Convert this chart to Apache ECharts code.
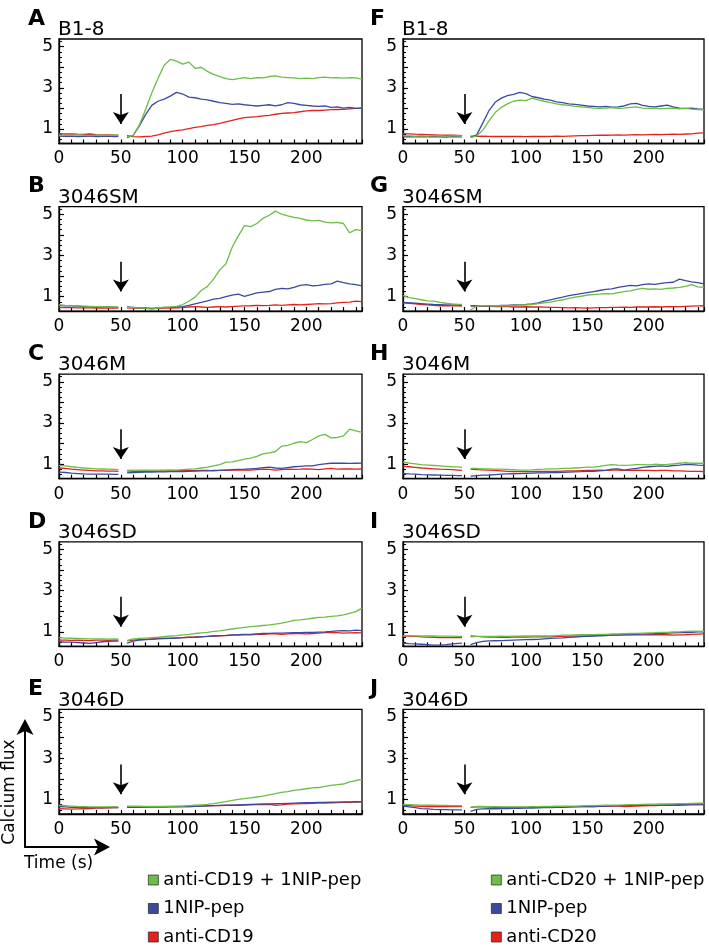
<!DOCTYPE html>
<html><head><meta charset="utf-8">
<script src="https://cdn.jsdelivr.net/npm/echarts@6/dist/echarts.min.js"></script>
<style>html,body{margin:0;padding:0;background:#fff}#c{width:709px;height:948px}</style>
</head><body><div id="c"></div>
<script>
// ---------------- DATA ----------------
const times = [0,5,10,15,20,25,30,35,40,45,48,51,
  55,60,65,70,75,80,85,90,95,100,
  105,110,115,120,125,130,135,140,145,150,
  155,160,165,170,175,180,185,190,195,200,
  205,210,215,220,225,230,235,240,245];

const xLabels = [0,50,100,150,200];
const yLabels = [1,3,5];
const yMajorTicks = [1,2,3,4,5];
const yMinorTicks = [0.5,0.75,1.25,1.5,1.75,2.25,2.5,2.75,3.25,3.5,3.75,4.25,4.5,4.75,5.25];
const stimTime = 50, arrowTop = 2.7, arrowTip = 1.25;

const namesLeft = ['anti-CD19 + 1NIP-pep','1NIP-pep','anti-CD19'];
const namesRight = ['anti-CD20 + 1NIP-pep','1NIP-pep','anti-CD20'];

// Panel A  B1-8 (anti-CD19)
const A_green = [0.70,0.71,0.69,0.72,0.70,0.68,0.70,0.71,0.69,0.70,0.69,null,
  0.62,0.68,1.20,1.95,2.75,3.45,4.10,4.38,4.30,4.15,
  4.25,3.95,4.00,3.80,3.65,3.55,3.45,3.40,3.45,3.50,
  3.45,3.50,3.48,3.55,3.58,3.52,3.50,3.48,3.45,3.47,
  3.45,3.50,3.52,3.48,3.50,3.47,3.50,3.48,3.42];
const A_blue = [0.66,0.65,0.66,0.64,0.65,0.66,0.64,0.65,0.66,0.64,0.65,null,
  0.58,0.70,1.15,1.70,2.15,2.35,2.45,2.60,2.78,2.70,
  2.55,2.52,2.45,2.42,2.35,2.28,2.25,2.20,2.22,2.18,
  2.15,2.12,2.15,2.18,2.12,2.18,2.28,2.25,2.18,2.15,
  2.12,2.10,2.12,2.05,2.08,2.02,2.05,2.00,2.02];
const A_red = [0.78,0.76,0.77,0.75,0.74,0.76,0.73,0.72,0.72,0.71,0.70,null,
  0.68,0.63,0.62,0.64,0.66,0.72,0.80,0.88,0.92,0.96,
  1.02,1.08,1.12,1.18,1.22,1.28,1.35,1.42,1.50,1.56,
  1.58,1.60,1.64,1.66,1.72,1.76,1.78,1.80,1.84,1.88,
  1.90,1.90,1.92,1.94,1.95,1.96,1.98,2.00,2.02];

// Panel B  3046SM
const B_green = [0.60,0.58,0.57,0.55,0.54,0.53,0.52,0.51,0.50,0.50,0.49,null,
  0.48,0.47,0.46,0.44,0.40,0.45,0.48,0.50,0.53,0.62,
  0.78,0.98,1.30,1.50,1.85,2.30,2.60,3.40,3.95,4.45,
  4.40,4.55,4.80,4.95,5.15,5.00,4.92,4.85,4.80,4.72,
  4.68,4.70,4.62,4.58,4.60,4.55,4.10,4.25,4.20];
const B_blue = [0.58,0.56,0.55,0.54,0.52,0.52,0.51,0.50,0.50,0.49,0.48,null,
  0.50,0.48,0.46,0.45,0.43,0.46,0.48,0.48,0.50,0.52,
  0.58,0.65,0.72,0.80,0.88,0.92,1.00,1.08,1.12,1.02,
  1.10,1.18,1.22,1.25,1.35,1.40,1.38,1.45,1.55,1.58,
  1.52,1.55,1.60,1.62,1.75,1.68,1.62,1.58,1.52];
const B_red = [0.48,0.47,0.47,0.46,0.46,0.46,0.45,0.45,0.45,0.45,0.44,null,
  0.46,0.45,0.44,0.43,0.42,0.43,0.44,0.45,0.46,0.47,
  0.50,0.52,0.50,0.48,0.50,0.52,0.50,0.52,0.54,0.55,
  0.56,0.58,0.57,0.58,0.60,0.58,0.60,0.62,0.60,0.62,
  0.64,0.66,0.65,0.66,0.70,0.72,0.74,0.78,0.76];

// Panel C  3046M
const C_green = [0.95,0.92,0.88,0.85,0.82,0.80,0.78,0.77,0.76,0.75,0.74,null,
  0.70,0.72,0.72,0.71,0.72,0.72,0.72,0.73,0.72,0.74,
  0.76,0.78,0.82,0.86,0.92,0.98,1.10,1.12,1.18,1.25,
  1.30,1.38,1.50,1.55,1.62,1.88,1.92,2.02,2.10,2.05,
  2.20,2.38,2.45,2.28,2.30,2.38,2.70,2.62,2.55];
const C_blue = [0.62,0.60,0.57,0.55,0.53,0.52,0.52,0.52,0.52,0.51,0.51,null,
  0.58,0.60,0.61,0.62,0.62,0.63,0.63,0.64,0.64,0.65,
  0.66,0.67,0.68,0.68,0.70,0.70,0.72,0.74,0.75,0.76,
  0.78,0.80,0.84,0.86,0.82,0.80,0.84,0.88,0.90,0.92,
  0.92,0.98,1.02,1.05,1.06,1.05,1.04,1.05,1.06];
const C_red = [0.82,0.80,0.76,0.74,0.72,0.70,0.68,0.68,0.67,0.67,0.66,null,
  0.68,0.66,0.66,0.67,0.66,0.67,0.68,0.68,0.69,0.70,
  0.70,0.69,0.70,0.70,0.68,0.70,0.71,0.72,0.72,0.73,
  0.72,0.74,0.76,0.75,0.72,0.74,0.76,0.75,0.76,0.78,
  0.76,0.74,0.78,0.80,0.76,0.78,0.77,0.76,0.77];

// Panel D  3046SD
const D_green = [0.72,0.70,0.69,0.68,0.67,0.66,0.66,0.66,0.65,0.66,0.65,null,
  0.58,0.66,0.68,0.70,0.72,0.74,0.77,0.80,0.82,0.85,
  0.88,0.92,0.95,0.98,1.02,1.05,1.10,1.14,1.18,1.22,
  1.25,1.28,1.31,1.34,1.38,1.42,1.48,1.56,1.58,1.62,
  1.66,1.70,1.72,1.75,1.78,1.82,1.90,1.98,2.15];
const D_blue = [0.52,0.50,0.50,0.48,0.46,0.44,0.48,0.52,0.54,0.55,0.55,null,
  0.45,0.55,0.60,0.62,0.64,0.66,0.67,0.68,0.70,0.72,
  0.73,0.74,0.76,0.78,0.80,0.82,0.83,0.85,0.86,0.88,
  0.88,0.90,0.92,0.93,0.94,0.94,0.95,0.96,0.96,0.98,
  0.98,0.99,1.00,1.02,1.05,1.06,1.05,1.08,1.06];
const D_red = [0.60,0.60,0.59,0.60,0.59,0.58,0.60,0.60,0.59,0.60,0.60,null,
  0.58,0.60,0.62,0.64,0.66,0.68,0.69,0.70,0.71,0.72,
  0.74,0.75,0.77,0.78,0.80,0.81,0.82,0.84,0.85,0.86,
  0.86,0.88,0.88,0.90,0.90,0.88,0.90,0.92,0.92,0.90,
  0.92,0.94,0.96,0.98,0.96,0.94,0.95,0.96,0.95];

// Panel E  3046D
const E_green = [0.72,0.70,0.68,0.66,0.65,0.64,0.64,0.64,0.64,0.65,0.64,null,
  0.68,0.68,0.67,0.66,0.66,0.66,0.66,0.67,0.68,0.68,
  0.70,0.72,0.74,0.76,0.80,0.85,0.90,0.96,1.00,1.04,
  1.08,1.12,1.16,1.22,1.28,1.34,1.38,1.44,1.48,1.52,
  1.56,1.58,1.64,1.68,1.72,1.75,1.85,1.92,1.98];
const E_blue = [0.66,0.64,0.62,0.62,0.61,0.60,0.60,0.60,0.60,0.61,0.60,null,
  0.62,0.63,0.63,0.64,0.64,0.64,0.64,0.65,0.65,0.66,
  0.66,0.67,0.68,0.69,0.70,0.71,0.72,0.73,0.74,0.75,
  0.76,0.77,0.78,0.79,0.80,0.80,0.81,0.82,0.83,0.84,
  0.85,0.86,0.86,0.87,0.87,0.88,0.88,0.89,0.90];
const E_red = [0.55,0.54,0.53,0.54,0.55,0.56,0.58,0.58,0.59,0.60,0.60,null,
  0.62,0.62,0.62,0.62,0.63,0.63,0.63,0.64,0.64,0.65,
  0.66,0.67,0.68,0.69,0.70,0.70,0.71,0.72,0.72,0.73,
  0.74,0.75,0.75,0.76,0.72,0.74,0.78,0.79,0.80,0.80,
  0.81,0.82,0.83,0.84,0.85,0.86,0.86,0.87,0.88];

// Panel F  B1-8 (anti-CD20)
const F_green = [0.68,0.67,0.66,0.67,0.66,0.68,0.67,0.66,0.67,0.68,0.66,null,
  0.60,0.66,0.95,1.40,1.80,2.05,2.22,2.35,2.40,2.38,
  2.50,2.42,2.35,2.28,2.22,2.18,2.15,2.10,2.08,2.05,
  2.02,2.00,2.02,2.04,2.00,2.02,2.05,2.08,2.02,2.00,
  2.02,1.98,2.00,2.02,1.98,2.00,1.97,1.95,1.93];
const F_blue = [0.62,0.63,0.62,0.64,0.62,0.63,0.62,0.61,0.63,0.62,0.62,null,
  0.60,0.72,1.30,1.90,2.30,2.50,2.62,2.68,2.78,2.72,
  2.58,2.52,2.45,2.40,2.32,2.28,2.22,2.20,2.16,2.12,
  2.10,2.08,2.10,2.06,2.08,2.12,2.22,2.25,2.15,2.10,
  2.08,2.12,2.16,2.08,2.02,2.00,2.02,1.98,1.96];
const F_red = [0.78,0.77,0.75,0.74,0.73,0.72,0.71,0.70,0.70,0.69,0.68,null,
  0.66,0.65,0.66,0.65,0.64,0.65,0.64,0.65,0.64,0.63,
  0.64,0.65,0.64,0.65,0.66,0.65,0.66,0.67,0.68,0.68,
  0.69,0.70,0.70,0.71,0.72,0.71,0.72,0.73,0.72,0.73,
  0.74,0.73,0.74,0.75,0.74,0.76,0.77,0.80,0.82];

// Panel G  3046SM
const G_green = [1.05,0.95,0.90,0.85,0.80,0.78,0.72,0.68,0.65,0.63,0.62,null,
  0.35,0.55,0.56,0.55,0.57,0.56,0.55,0.58,0.60,0.60,
  0.62,0.66,0.70,0.74,0.80,0.85,0.92,0.98,1.02,1.08,
  1.10,1.12,1.15,1.14,1.20,1.24,1.28,1.35,1.40,1.36,
  1.38,1.35,1.40,1.42,1.45,1.50,1.58,1.48,1.45];
const G_blue = [0.72,0.70,0.68,0.66,0.64,0.62,0.61,0.60,0.60,0.59,0.58,null,
  0.55,0.56,0.55,0.56,0.55,0.58,0.58,0.60,0.60,0.62,
  0.65,0.70,0.78,0.85,0.92,0.98,1.05,1.10,1.15,1.20,
  1.25,1.30,1.35,1.38,1.45,1.50,1.55,1.52,1.58,1.62,
  1.60,1.65,1.68,1.70,1.85,1.78,1.72,1.68,1.62];
const G_red = [0.70,0.68,0.65,0.62,0.60,0.58,0.56,0.56,0.55,0.55,0.54,null,
  0.55,0.54,0.53,0.54,0.52,0.53,0.52,0.50,0.50,0.51,
  0.50,0.50,0.49,0.48,0.48,0.47,0.46,0.47,0.46,0.44,
  0.46,0.47,0.47,0.48,0.48,0.49,0.48,0.50,0.50,0.50,
  0.51,0.50,0.52,0.51,0.52,0.53,0.54,0.55,0.56];

// Panel H  3046M
const H_green = [1.10,1.06,1.02,0.98,0.96,0.94,0.92,0.90,0.88,0.87,0.85,null,
  0.80,0.80,0.78,0.78,0.76,0.76,0.75,0.74,0.72,0.72,
  0.73,0.75,0.76,0.78,0.78,0.80,0.80,0.82,0.84,0.86,
  0.86,0.90,0.95,0.98,0.96,0.95,0.96,0.98,0.98,0.97,
  1.00,0.98,0.99,1.02,1.05,1.08,1.05,1.06,1.05];
const H_blue = [0.55,0.53,0.52,0.50,0.49,0.48,0.47,0.46,0.46,0.45,0.45,null,
  0.42,0.45,0.47,0.48,0.50,0.52,0.53,0.54,0.55,0.56,
  0.57,0.58,0.58,0.59,0.60,0.61,0.62,0.63,0.64,0.66,
  0.66,0.68,0.70,0.76,0.78,0.72,0.76,0.80,0.85,0.88,
  0.90,0.92,0.90,0.94,0.96,1.00,0.98,0.96,0.95];
const H_red = [0.90,0.88,0.85,0.82,0.80,0.78,0.76,0.75,0.74,0.72,0.70,null,
  0.76,0.74,0.73,0.72,0.70,0.68,0.66,0.65,0.64,0.64,
  0.64,0.65,0.65,0.66,0.66,0.67,0.68,0.68,0.69,0.70,
  0.70,0.71,0.70,0.72,0.72,0.70,0.70,0.71,0.70,0.70,
  0.69,0.70,0.70,0.68,0.68,0.67,0.66,0.66,0.65];

// Panel I  3046SD
const I_green = [0.82,0.82,0.81,0.80,0.80,0.80,0.79,0.79,0.79,0.78,0.78,null,
  0.76,0.78,0.78,0.78,0.78,0.79,0.78,0.79,0.79,0.80,
  0.80,0.80,0.81,0.80,0.82,0.84,0.84,0.85,0.86,0.86,
  0.87,0.88,0.88,0.90,0.90,0.91,0.92,0.93,0.94,0.95,
  0.96,0.98,0.98,1.00,1.00,1.02,1.03,1.04,1.02];
const I_blue = [0.45,0.43,0.42,0.40,0.38,0.36,0.36,0.38,0.42,0.44,0.45,null,
  0.38,0.48,0.54,0.56,0.57,0.58,0.59,0.60,0.61,0.62,
  0.63,0.64,0.66,0.68,0.70,0.71,0.73,0.75,0.77,0.78,
  0.80,0.81,0.82,0.84,0.85,0.86,0.87,0.88,0.89,0.90,
  0.91,0.92,0.94,0.95,0.96,0.97,0.98,1.00,1.00];
const I_red = [0.80,0.79,0.78,0.76,0.75,0.74,0.72,0.73,0.72,0.72,0.72,null,
  0.80,0.78,0.76,0.75,0.75,0.74,0.74,0.75,0.75,0.75,
  0.76,0.76,0.77,0.76,0.78,0.78,0.79,0.80,0.80,0.82,
  0.82,0.83,0.83,0.84,0.84,0.85,0.86,0.86,0.85,0.86,
  0.87,0.86,0.86,0.84,0.85,0.86,0.88,0.89,0.90];

// Panel J  3046D
const J_green = [0.76,0.75,0.74,0.73,0.72,0.72,0.71,0.71,0.70,0.70,0.70,null,
  0.62,0.66,0.66,0.65,0.65,0.64,0.64,0.64,0.64,0.64,
  0.65,0.65,0.66,0.66,0.67,0.67,0.68,0.68,0.69,0.70,
  0.70,0.71,0.72,0.73,0.73,0.74,0.75,0.75,0.76,0.77,
  0.77,0.78,0.78,0.79,0.80,0.80,0.81,0.82,0.82];
const J_blue = [0.68,0.64,0.60,0.56,0.54,0.52,0.51,0.51,0.50,0.50,0.50,null,
  0.42,0.52,0.54,0.55,0.55,0.56,0.56,0.57,0.57,0.58,
  0.58,0.59,0.60,0.61,0.62,0.62,0.63,0.64,0.65,0.66,
  0.66,0.67,0.68,0.69,0.70,0.70,0.71,0.72,0.72,0.73,
  0.73,0.74,0.75,0.75,0.76,0.76,0.77,0.78,0.78];
const J_red = [0.72,0.70,0.68,0.67,0.66,0.66,0.66,0.65,0.65,0.66,0.65,null,
  0.62,0.64,0.64,0.63,0.62,0.62,0.61,0.61,0.62,0.62,
  0.62,0.63,0.63,0.64,0.64,0.64,0.65,0.65,0.65,0.66,
  0.66,0.67,0.67,0.68,0.68,0.66,0.67,0.68,0.69,0.70,
  0.70,0.71,0.71,0.72,0.72,0.73,0.74,0.74,0.75];

const panelLetters = ['A','B','C','D','E','F','G','H','I','J'];
const panelTitles = ['B1-8','3046SM','3046M','3046SD','3046D','B1-8','3046SM','3046M','3046SD','3046D'];
const greens = [A_green,B_green,C_green,D_green,E_green,F_green,G_green,H_green,I_green,J_green];
const blues  = [A_blue,B_blue,C_blue,D_blue,E_blue,F_blue,G_blue,H_blue,I_blue,J_blue];
const reds   = [A_red,B_red,C_red,D_red,E_red,F_red,G_red,H_red,I_red,J_red];

// ---------------- STYLE / LAYOUT ----------------
const FONT = 'DejaVu Sans';
const COL = {green:'#6cbd45', blue:'#3b4a9f', red:'#e3221d'};
const colLeft = [59, 403], colWidth = [303, 301];
const top0 = 39, rowPitch = 167.6, plotH = 104.5;

const grids = [], xAxes = [], yAxes = [], series = [], titles = [];
function toData(arr){ return times.map((t,k)=>[t, arr[k]===null ? '-' : arr[k]]); }

for (let i=0;i<10;i++){
  const c = i<5?0:1, r = i%5;
  const top = top0 + r*rowPitch;
  grids.push({left:colLeft[c], top:top, width:colWidth[c], height:plotH, show:true,
    borderColor:'#000', borderWidth:1.3, backgroundColor:'transparent', containLabel:false, outerBoundsMode:'none'});
  xAxes.push({gridIndex:i, type:'value', min:0, max:245, interval:10,
    axisLine:{show:true, onZero:false, lineStyle:{color:'#000', width:1.3}},
    axisTick:{show:true, inside:true, length:4, lineStyle:{color:'#000', width:1.2}},
    axisLabel:{formatter:v=> xLabels.indexOf(v)>=0 ? String(v) : '', fontFamily:FONT, fontSize:17, color:'#000', margin:7},
    splitLine:{show:false}});
  yAxes.push({gridIndex:i, type:'value', min:0.3, max:5.37, position:'left',
    axisLine:{show:true, onZero:false, lineStyle:{color:'#000', width:1.3}},
    axisTick:{show:true, inside:true, length:5, customValues:yMajorTicks, lineStyle:{color:'#000', width:1.2}},
    axisLabel:{customValues:yLabels, fontFamily:FONT, fontSize:17, color:'#000', margin:6},
    splitLine:{show:false}});
  yAxes.push({gridIndex:i, type:'value', min:0.3, max:5.37, position:'left', offset:0,
    axisLine:{show:false},
    axisTick:{show:true, inside:true, length:3, customValues:yMinorTicks, lineStyle:{color:'#000', width:1}},
    axisLabel:{show:false}, splitLine:{show:false}});
  const names = c===0 ? namesLeft : namesRight;
  const common = {type:'line', xAxisIndex:i, yAxisIndex:2*i, showSymbol:false, symbol:'none',
    connectNulls:false, animation:false, silent:true};
  series.push(Object.assign({}, common, {name:names[2], data:toData(reds[i]), color:COL.red,
    lineStyle:{color:COL.red, width:1.3}}));
  series.push(Object.assign({}, common, {name:names[1], data:toData(blues[i]), color:COL.blue,
    lineStyle:{color:COL.blue, width:1.3}}));
  series.push(Object.assign({}, common, {name:names[0], data:toData(greens[i]), color:COL.green,
    lineStyle:{color:COL.green, width:1.3},
    markLine:{silent:true, animation:false, symbol:['none','arrow'], symbolSize:12,
      label:{show:false}, lineStyle:{color:'#000', width:1.6, type:'solid'},
      emphasis:{disabled:true},
      data:[[{coord:[stimTime, arrowTop], symbol:'none'},{coord:[stimTime, arrowTip], symbol:'arrow', symbolSize:12}]]}}));
  titles.push({text:panelLetters[i], left: c===0?28:370, top: top-31, padding:0,
    textStyle:{fontFamily:FONT, fontWeight:'bold', fontSize:22, color:'#000'}});
  titles.push({text:panelTitles[i], left: colLeft[c]-1, top: top-19, padding:0,
    textStyle:{fontFamily:FONT, fontWeight:'normal', fontSize:20, color:'#000'}});
}

const legendCommon = {orient:'vertical', top:871, itemWidth:10, itemHeight:10, itemGap:10.5, icon:'rect',
  selectedMode:false, padding:0,
  textStyle:{fontFamily:FONT, fontSize:18, color:'#000', lineHeight:18},
  itemStyle:{borderColor:'#222', borderWidth:0.7}};

const option = {
  animation:false,
  backgroundColor:'#fff',
  title: titles,
  grid: grids, xAxis: xAxes, yAxis: yAxes, series: series,
  legend:[
    Object.assign({}, legendCommon, {left:148, data:namesLeft}),
    Object.assign({}, legendCommon, {left:491, data:namesRight})
  ],
  graphic:[
    {type:'line', shape:{x1:25, y1:847, x2:25, y2:728}, style:{stroke:'#000', lineWidth:2}},
    {type:'polygon', shape:{points:[[25,719],[33.5,735],[25,731],[16.5,735]]}, style:{fill:'#000'}},
    {type:'line', shape:{x1:24, y1:847, x2:100, y2:847}, style:{stroke:'#000', lineWidth:2}},
    {type:'polygon', shape:{points:[[110,847],[94,838.5],[98,847],[94,855.5]]}, style:{fill:'#000'}},
    {type:'text', x:10, y:792, rotation:Math.PI/2,
      style:{text:'Calcium flux', x:0, y:0, align:'center', verticalAlign:'middle', font:'17px "DejaVu Sans"', fill:'#000'}},
    {type:'text', x:24, y:864,
      style:{text:'Time (s)', x:0, y:0, align:'left', verticalAlign:'middle', font:'17px "DejaVu Sans"', fill:'#000'}}
  ]
};

const chart = echarts.init(document.getElementById('c'), null, {renderer:'canvas'});
chart.setOption(option);
</script></body></html>
